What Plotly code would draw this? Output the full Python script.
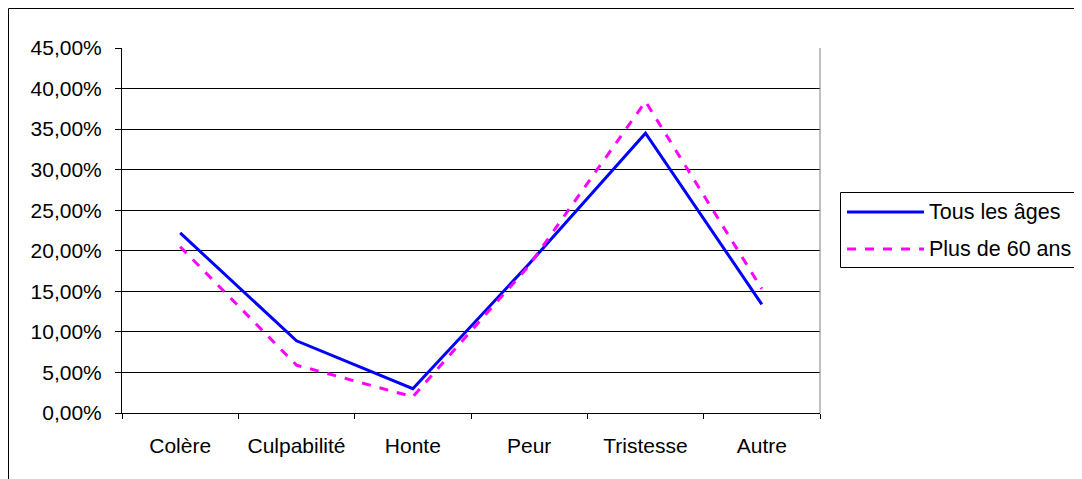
import plotly.graph_objects as go

# données
categories = ["Colère", "Culpabilité", "Honte", "Peur", "Tristesse", "Autre"]
tous_les_ages = [0.222, 0.089, 0.030, 0.184, 0.345, 0.134]
plus_de_60 = [0.205, 0.059, 0.020, 0.182, 0.384, 0.153]
y_ticks = [i * 0.05 for i in range(10)]

OFF = 8                     # marge du body de la page
W, H = 1082 - OFF, 479 - OFF
L, R, T, B = 122, 820, 48, 413   # zone de tracé (pixels de la référence)
FONT = "Liberation Sans, Arial, sans-serif"


def px(x):
    return (x - L) / (R - L)


def py(y):
    return (B - y) / (B - T)


fig = go.Figure()
fig.add_trace(go.Scatter(
    x=categories, y=tous_les_ages, mode="lines", name="Tous les âges",
    line=dict(color="#0000FF", width=3), showlegend=False,
))
fig.add_trace(go.Scatter(
    x=categories, y=plus_de_60, mode="lines", name="Plus de 60 ans",
    line=dict(color="#FF00FF", width=3, dash="dash"), showlegend=False,
))

shapes = [
    # cadre du graphique
    dict(type="rect", xref="paper", yref="paper", x0=px(OFF + 0.5), x1=px(1100), y0=py(OFF + 0.5), y1=py(520),
         line=dict(color="black", width=1), layer="below"),
    # bord droit de la zone de tracé
    dict(type="line", xref="paper", yref="paper", x0=1, x1=1, y0=0, y1=1,
         line=dict(color="#808080", width=1)),
    # légende
    dict(type="rect", xref="paper", yref="paper", x0=px(840.5), x1=px(1080.5), y0=py(192.5), y1=py(267.5),
         line=dict(color="black", width=1), fillcolor="white"),
    dict(type="line", xref="paper", yref="paper", x0=px(847), x1=px(924), y0=py(212), y1=py(212),
         line=dict(color="#0000FF", width=3)),
    dict(type="line", xref="paper", yref="paper", x0=px(847), x1=px(924), y0=py(249), y1=py(249),
         line=dict(color="#FF00FF", width=3, dash="dash")),
]

annotations = [
    dict(text="Tous les âges", xref="paper", yref="paper", x=px(927), y=py(212),
         xanchor="left", yanchor="middle", showarrow=False, font=dict(size=21.5, color="black", family=FONT)),
    dict(text="Plus de 60 ans", xref="paper", yref="paper", x=px(927), y=py(249),
         xanchor="left", yanchor="middle", showarrow=False, font=dict(size=21.5, color="black", family=FONT)),
]

fig.update_layout(
    width=W, height=H,
    margin=dict(l=L - OFF, r=1082 - R, t=T - OFF, b=479 - B, pad=0),
    paper_bgcolor="white", plot_bgcolor="white",
    font=dict(family=FONT, size=21, color="black"),
    separators=", ",
    shapes=shapes, annotations=annotations,
    xaxis=dict(
        type="category", range=[-0.5, 5.5], tickson="boundaries",
        ticks="outside", ticklen=5, tickcolor="black",
        showline=True, linecolor="black", linewidth=1,
        showgrid=False, ticklabelstandoff=14,
    ),
    yaxis=dict(
        range=[0, 0.45], tickvals=y_ticks, tickformat=".2%",
        ticks="outside", ticklen=6, tickcolor="black",
        showline=True, linecolor="black", linewidth=1,
        showgrid=True, gridcolor="black", gridwidth=1,
        zeroline=False, ticklabelstandoff=9,
    ),
)

fig.write_html("out.html")
